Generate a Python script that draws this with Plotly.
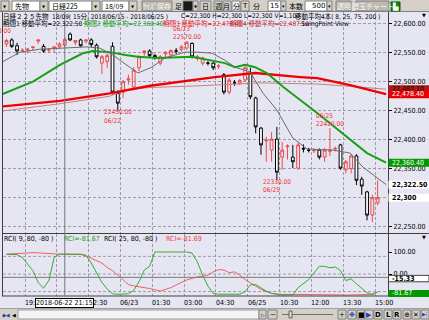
import plotly.graph_objects as go

W, H = 429, 320

# ---------------- data ----------------
tick_labels = ["19:30", "21:00", "22:30", "06/23", "01:30", "03:00",
               "04:30", "06/25", "10:30", "12:00", "13:30", "15:00"]

opens = [22565, 22572, 22562, 22554, 22555, 22559, 22570, 22561, 22555, 22558,
         22560, 22563, 22582, 22568, 22572, 22570, 22572, 22563, 22532, 22535,
         22561, 22480, 22482, 22503, 22491, 22524, 22550, 22553, 22545, 22532,
         22548, 22546, 22553, 22555, 22558, 22566, 22540, 22532, 22532, 22532,
         22527, 22512, 22482, 22498, 22497, 22503, 22515, 22472, 22420, 22398,
         22382, 22401, 22370, 22388, 22370, 22351, 22385, 22382, 22381, 22382,
         22370, 22380, 22384, 22391, 22348, 22350, 22372, 22332, 22310, 22270,
         22291]
highs = [22574, 22575, 22567, 22558, 22558, 22560, 22572, 22565, 22558, 22560,
         22568, 22576, 22585, 22571, 22574, 22572, 22575, 22566, 22546, 22549,
         22568, 22485, 22503, 22512, 22525, 22546, 22554, 22556, 22548, 22546,
         22552, 22555, 22558, 22563, 22570, 22568, 22546, 22543, 22535, 22534,
         22530, 22515, 22506, 22503, 22505, 22527, 22524, 22474, 22422, 22405,
         22413, 22422, 22396, 22392, 22391, 22395, 22392, 22386, 22385, 22385,
         22386, 22420, 22388, 22393, 22365, 22375, 22375, 22336, 22312, 22305,
         22330]
lows = [22560, 22558, 22546, 22550, 22549, 22553, 22565, 22550, 22550, 22551,
        22557, 22558, 22570, 22563, 22560, 22566, 22560, 22540, 22513, 22524,
        22478, 22450, 22472, 22495, 22485, 22518, 22545, 22542, 22538, 22528,
        22540, 22540, 22548, 22552, 22555, 22540, 22536, 22528, 22528, 22520,
        22522, 22478, 22478, 22493, 22494, 22500, 22470, 22411, 22374, 22362,
        22362, 22330, 22348, 22366, 22351, 22348, 22378, 22378, 22377, 22366,
        22362, 22372, 22380, 22348, 22342, 22342, 22322, 22305, 22261, 22258,
        22287]
closes = [22571, 22561, 22553, 22554, 22556, 22560, 22572, 22553, 22555, 22560,
          22565, 22573, 22572, 22571, 22562, 22572, 22564, 22543, 22543, 22545,
          22482, 22463, 22500, 22505, 22520, 22543, 22553, 22545, 22543, 22543,
          22551, 22554, 22553, 22560, 22568, 22543, 22543, 22541, 22532, 22524,
          22527, 22482, 22503, 22498, 22502, 22524, 22474, 22422, 22391, 22399,
          22401, 22344, 22382, 22389, 22362, 22391, 22384, 22382, 22382, 22370,
          22382, 22382, 22385, 22351, 22362, 22372, 22330, 22320, 22270, 22300,
          22300]

# moving averages (candle index, value)
ma8_k = [-1.2, 2.6, 6.3, 11.4, 15.2, 17.6, 20.1, 21.4, 23.3, 24.8, 27.4, 29.9,
         33.7, 36.1, 38.8, 41.2, 43.1, 45.9, 48.4, 51.0, 54.0, 56.7, 61.6, 64.8,
         67.2, 71.6]
ma8_v = [22532, 22551, 22556, 22558, 22560, 22558, 22546, 22537, 22524, 22515,
         22525, 22541, 22551, 22551, 22549, 22537, 22525, 22517, 22480, 22451,
         22403, 22384, 22382, 22377, 22353, 22322.5]
ma25_k = [-1.2, 5.0, 10.1, 14.4, 16.3, 19.5, 22.4, 24.8, 28.6, 35.0, 41.2, 43.1,
          45.0, 46.9, 49.1, 52.2, 58.6, 64.8, 68.0, 71.6]
ma25_v = [22477, 22500, 22529, 22549, 22553, 22551, 22546, 22543, 22541, 22543,
          22532, 22525, 22529, 22525, 22515, 22491, 22446, 22400, 22377, 22360.4]
ma75_k = [-1.2, 10.1, 19.5, 27.1, 39.3, 46.9, 55.4, 58.6, 64.8, 71.6]
ma75_v = [22457, 22467, 22480, 22493, 22508, 22515, 22508, 22506, 22494, 22478.4]
ma200_k = [-1.2, 10.1, 19.5, 22.4, 27.1, 36.5, 47.8, 58.6, 64.8, 71.6]
ma200_v = [22449, 22462, 22475, 22486, 22490, 22493, 22498, 22496, 22492, 22487.1]

rci9 = [90, 90, 88, 75, 45, 15, -40, -64, -30, 75,
        90, 90, 90, 90, 90, 85, 50, 5, -38, -68,
        -90, -92, -92, -90, -75, -35, 18, 35, 100, 100,
        100, 100, 100, 100, 100, 95, 55, -5, -55, -88,
        -92, -92, -92, -92, -92, -80, -50, -48, -62, -78,
        -88, -93, -95, -95, -95, -62, -45, -25, 5, 35,
        35, 28, 32, 15, -30, -22, -45, -65, -85, -95,
        -81.67]
rci25 = [90, 92, 94, 95, 96, 97, 96, 94, 92, 90,
         90, 90, 90, 90, 89, 82, 72, 62, 50, 30,
         15, -5, -28, -48, -54, -57, -60, -66, -72, -77,
         -70, -62, -50, -38, -27, -20, -13, -10, -5, 10,
         20, 18, 6, 10, -5, -25, -42, -55, -70, -80,
         -88, -92, -92, -93, -94, -95, -95, -94, -93, -92,
         -92, -93, -94, -95, -96, -96, -95, -94, -93, -90,
         -81.69]

price_ticks = [22250, 22300, 22350, 22400, 22450, 22500, 22550, 22600]
rci_ticks = [100, 0]
rci_levels = [80, 0, -80]

# swing points: (candle index, kind, date label)
swing_points = [(21, "low", "06/22"), (34, "high", "06/23"),
                (51, "low", "06/25"), (61, "high", "06/25")]

ma_last = {"ma8": 22322.50, "ma25": 22360.40, "ma75": 22478.40, "ma200": 22487.10}
last_price = 22300
cursor_idx = 11
cursor_rci = -15.33

# ---------------- geometry helpers ----------------
def px(x):
    return x / W


def py(y):
    return 1 - y / H


XA, XB = 6.44, 5.303          # candle center = XA + XB * index (pixels)


def kx(x):
    return (x - XA) / XB


def pv(y):
    return 22550 - (y - 52.7) / 0.58


def rv(y):
    return (274 - y) / 0.22


def yp(p):
    return 52.7 + (22550 - p) * 0.58


BG = "#E6E6F2"
TB = "#D4D0C8"
GRID = "#9C9CAC"
FONT = "Liberation Sans Narrow, DejaVu Sans Condensed, DejaVu Sans Mono, Noto Sans CJK JP"
CJK = "Noto Sans CJK JP"
FS = 7
TS = 6.5
RED_TXT = "#F03030"

idx = list(range(len(closes)))
grid_k = [3.5 + 6 * j for j in range(len(tick_labels))]

fig = go.Figure()

# moving averages
fig.add_trace(go.Scatter(x=ma200_k, y=ma200_v, mode="lines",
                         line=dict(color="#C88080", width=1), xaxis="x", yaxis="y"))
fig.add_trace(go.Scatter(x=ma75_k, y=ma75_v, mode="lines",
                         line=dict(color="#F00000", width=2.3), xaxis="x", yaxis="y"))
fig.add_trace(go.Scatter(x=ma25_k, y=ma25_v, mode="lines",
                         line=dict(color="#16A016", width=2), xaxis="x", yaxis="y"))
fig.add_trace(go.Scatter(x=ma8_k, y=ma8_v, mode="lines",
                         line=dict(color="#6A6A6A", width=1), xaxis="x", yaxis="y"))

# candles
fig.add_trace(go.Candlestick(
    x=idx, open=opens, high=highs, low=lows, close=closes,
    increasing=dict(line=dict(color="#F04848", width=1), fillcolor="rgba(0,0,0,0)"),
    decreasing=dict(line=dict(color="#000000", width=1), fillcolor="#FFFFFF"),
    whiskerwidth=0, xaxis="x", yaxis="y", hoverinfo="skip"))

# RCI
fig.add_trace(go.Scatter(x=idx, y=rci25, mode="lines",
                         line=dict(color="#F06060", width=1), xaxis="x", yaxis="y2"))
fig.add_trace(go.Scatter(x=idx, y=rci9, mode="lines",
                         line=dict(color="#38A838", width=1), xaxis="x", yaxis="y2"))

shapes = []
ann = []


def rect(x0, y0, x1, y1, fill, line=None, lw=1):
    shapes.append(dict(type="rect", xref="paper", yref="paper",
                       x0=px(x0), x1=px(x1), y0=py(y1), y1=py(y0),
                       fillcolor=fill, line=dict(color=line or fill, width=lw if line else 0),
                       layer="above"))


def hline(x0, x1, y, color, width=1, dash="solid"):
    shapes.append(dict(type="line", xref="paper", yref="paper", x0=px(x0), x1=px(x1),
                       y0=py(y), y1=py(y), line=dict(color=color, width=width, dash=dash),
                       layer="above"))


def vline(x, y0, y1, color, width=1):
    shapes.append(dict(type="line", xref="paper", yref="paper", x0=px(x), x1=px(x),
                       y0=py(y0), y1=py(y1), line=dict(color=color, width=width), layer="above"))


def txt(x, y, s, color="#000000", size=FS, anchor="left", family=FONT, bold=False, **kw):
    if bold:
        s = "<b>" + s + "</b>"
    ann.append(dict(x=px(x), y=py(y), xref="paper", yref="paper", text=s, showarrow=False,
                    xanchor=anchor, yanchor="middle", borderpad=0,
                    font=dict(family=family, size=size, color=color), **kw))


# ---- pane frame ----
vline(2.5, 12, 296, "#404040")
hline(2, 429, 233.5, "#404040")
hline(2, 429, 296, "#404040")
# cursor crosshair
shapes.append(dict(type="line", xref="x", yref="paper", x0=cursor_idx, x1=cursor_idx,
                   y0=py(296), y1=py(12), line=dict(color="#7A7A7A", width=1), layer="above"))
# RCI level lines
for lv in rci_levels:
    shapes.append(dict(type="line", xref="paper", yref="y2", x0=px(3), x1=px(388), y0=lv, y1=lv,
                       line=dict(color=GRID, width=1, dash="3px,2px"), layer="below"))
shapes.append(dict(type="line", xref="paper", yref="y2", x0=px(3), x1=px(388),
                   y0=cursor_rci, y1=cursor_rci, line=dict(color="#7A7A7A", width=1), layer="above"))

# ---- title rows ----
txt(2, 16.5, "日経２２５先物", family=CJK, size=TS)
txt(51, 16.5, "18/09( 15分; 2018/06/15 - 2018/06/25 )", size=TS)
txt(180, 16.5, "C=22,300 H=22,300 L=22,300 V=1,107", size=TS)
txt(294, 16.5, "移動平均4本( 8, 25, 75, 200 )", size=TS)
txt(2, 23.5, "期間1 移動平均=22,322.50", color="#000000", size=TS)
txt(83, 23.5, "期間2 移動平均=22,360.40", color="#10A010", size=TS)
txt(162, 23.5, "期間3 移動平均=22,478.40", color="#F02020", size=TS)
txt(229, 23.5, "期間4 移動平均=22,487.10", color="#C83030", size=TS)
txt(300, 23.5, "SwingPoint View", size=TS)
ann.append(dict(x=px(13), y=py(31), xref="paper", yref="paper", text="22580.00", showarrow=False,
                xanchor="right", yanchor="middle", font=dict(family=FONT, size=TS, color=RED_TXT)))
txt(424, 15, "▼", size=5, anchor="center", family="DejaVu Sans")
txt(424, 237, "▼", size=5, anchor="center", family="DejaVu Sans")

# swing point labels (two single-line texts each)
for k, kind, date in swing_points:
    v = lows[k] if kind == "low" else highs[k]
    price_s = f"{v:.2f}"
    if kind == "low":
        lines = [(price_s, -1.5), (date, -10)]
    else:
        lines = [(price_s, 4), (date, 12.5)]
    for s, shift in lines:
        ann.append(dict(x=k, y=v, xref="x", yref="y", text=s, showarrow=False,
                        xanchor="left", yanchor="middle", xshift=-15, yshift=shift,
                        borderpad=0, font=dict(family=FONT, size=TS, color=RED_TXT)))

# RCI title
txt(3, 238.5, "RCI( 9, 80, -80 )")
txt(63, 238.5, "RCI=-81.67", color="#20A020")
txt(103, 238.5, "RCI( 25, 80, -80 )")
txt(165, 238.5, "RCI=-81.69", color="#F04040")


# ---- right value boxes ----
def vbox(yc, s, fill, color, bold=False, border=None, hh=4):
    rect(388.5, yc - hh, 429, yc + hh, fill, border)
    txt(391, yc, s, color=color, bold=bold)


vbox(yp(ma_last["ma200"]), "22,487.10", "#B01818", "#200000")
vbox(yp(ma_last["ma75"]), "22,478.40", "#E80000", "#FFFFFF")
vbox(yp(ma_last["ma25"]), "22,360.40", "#009A00", "#FFFFFF")
vbox(yp(ma_last["ma8"]), "22,322.50", "#FFFFFF", "#000000", bold=True)
vbox(yp(last_price), "22,300", "#FFFFFF", "#000000", bold=True)
vbox(274 - 0.22 * cursor_rci + 1.2, "-15.33", "#FFFFFF", "#000000", bold=True,
     border="#404040", hh=3.2)
vbox(274 - 0.22 * rci9[-1] + 1.5, "-81.67", "#009A00", "#FFFFFF", hh=3.5)

# ---- x axis labels ----
for gk, lab in zip(grid_k, tick_labels):
    ann.append(dict(x=gk, y=py(303), xref="x", yref="paper", text=lab, showarrow=False,
                    xanchor="left", yanchor="middle", xshift=-2,
                    font=dict(family=FONT, size=FS, color="#000000")))
ann.append(dict(x=cursor_idx, y=py(303), xref="x", yref="paper", text="2018-06-22 21:15",
                showarrow=False, xanchor="center", yanchor="middle", bgcolor="#FFFFFF",
                bordercolor="#000000", borderwidth=1, borderpad=0,
                font=dict(family=FONT, size=FS, color="#000000")))

# ---- top toolbar ----
rect(0, 0, 429, 12, TB)
hline(0, 429, 11.5, "#808080")


def button(x0, x1, label, fill=TB, color="#000000", size=7, family=CJK):
    rect(x0, 1, x1, 11, fill, "#808080")
    txt((x0 + x1) / 2, 6, label, color=color, size=size, anchor="center", family=family)


def combo(x0, x1, x2, label):
    rect(x0, 1, x1, 11, "#FFFFFF", "#808080")
    txt(x0 + 2, 6, label, size=7, family=CJK)
    button(x1, x2, "▼", size=4, family="DejaVu Sans")


button(1, 9, "▼", size=4, family="DejaVu Sans")
combo(12, 40, 48, "先物")
combo(49, 92, 100, "日経225")
combo(102, 129, 137, "18/09")
button(142, 172, "ｻｲｽﾞ保存", fill="#BEBAB2", color="#F4F4F4")
txt(174, 6, "足", size=7, family=CJK)
rect(183, 1, 193, 11, "#1A1A1A", "#808080")
button(193, 198, "▼", size=4, family="DejaVu Sans")
button(200, 211, "日")
button(214, 222, "週")
button(223, 231, "月")
button(232, 240, "分", fill="#F2F2F2")
button(241, 249, "T", family="DejaVu Sans")
txt(252, 6, "分", size=7, family=CJK)
rect(268, 1, 281, 11, "#FFFFFF", "#808080")
txt(280, 6, "15", anchor="right", family="DejaVu Sans", size=7)
button(281, 286, "▾", size=5, family="DejaVu Sans")
txt(288, 6, "本数", size=7, family=CJK)
rect(305, 1, 327, 11, "#FFFFFF", "#808080")
txt(326, 6, "500", anchor="right", family="DejaVu Sans", size=7)
button(327, 332, "▾", size=5, family="DejaVu Sans")
button(336, 351, "透明", fill="#BEBAB2", color="#F4F4F4")
button(356, 389, "建玉チャート", fill="#BEBAB2", color="#F4F4F4")
rect(391, 2, 400, 11, "#0A8A0A", "#006000")
txt(395.5, 6.5, "▙", size=7, anchor="center", family="DejaVu Sans", color="#FFFFFF")

# ---- bottom toolbar ----
rect(0, 308, 429, 320, TB)
hline(0, 429, 308.5, "#A0A0A0")
txt(6, 314.5, "◆◀", size=5, anchor="center", family="DejaVu Sans", color="#1A3AC0")
txt(14, 314.5, "◀", size=5, anchor="center", family="DejaVu Sans")
rect(18, 310, 259, 319, "#F4F4F4", "#A0A0A0")
rect(259, 310, 266, 319, TB, "#808080")
txt(262.5, 314.5, "▷", size=5, anchor="center", family="DejaVu Sans")
rect(268, 310, 277, 319, TB, "#808080")
txt(272.5, 314.5, "−", size=7, anchor="center", family="DejaVu Sans")
hline(282, 333, 314.5, "#707070")
rect(289, 311, 292, 318, "#E0E0E0", "#606060")
bottom_btns = [("+", "#000000"), ("✥", "#1A3AC0"), ("■", "#000000"), ("▶", "#1A3AC0"),
               ("D", "#000000"), ("L", "#000000"), ("R", "#000000"), ("⊕", "#000000"),
               ("✕", "#000000"), ("▶|", "#1A3AC0")]
bx = [342, 352, 361, 369, 378, 388, 397, 407, 416, 425]
for (lab, col), xc in zip(bottom_btns, bx):
    rect(xc - 4, 310, xc + 4, 319, TB, "#808080")
    txt(xc, 314.5, lab, size=7 if len(lab) == 1 else 5, anchor="center",
        family="DejaVu Sans", color=col, bold=lab in "DLR")

# price tick labels: the one hidden by the current-price box is left blank
price_text = ["" if t == last_price else f"{t:,.2f}" for t in price_ticks]

fig.update_layout(
    width=W, height=H, margin=dict(l=0, r=0, t=0, b=0),
    paper_bgcolor=BG, plot_bgcolor="rgba(0,0,0,0)", showlegend=False,
    boxgap=0.25,
    xaxis=dict(domain=[px(3), px(388)], range=[kx(3), kx(388)], anchor="y2",
               tickvals=grid_k, showticklabels=False, ticks="",
               showgrid=True, gridcolor=GRID, gridwidth=1, griddash="3px,2px",
               zeroline=False, showline=False, rangeslider=dict(visible=False),
               fixedrange=True),
    yaxis=dict(domain=[py(233), py(12)], range=[pv(233), pv(12)], side="right", anchor="x",
               tickvals=price_ticks, ticktext=price_text, ticks="outside", ticklen=3,
               tickcolor="#000000", showgrid=True, gridcolor=GRID, griddash="3px,2px",
               zeroline=False, showline=True, linecolor="#404040", automargin=False,
               tickfont=dict(family=FONT, size=FS, color="#000000"), fixedrange=True),
    yaxis2=dict(domain=[py(296), py(234)], range=[rv(296), rv(234)], side="right", anchor="x",
                tickvals=rci_ticks, tickformat=".2f", ticks="outside", ticklen=3,
                tickcolor="#000000", showgrid=False, zeroline=False, showline=True,
                linecolor="#404040", automargin=False,
                tickfont=dict(family=FONT, size=FS, color="#000000"), fixedrange=True),
    shapes=shapes, annotations=ann,
)

fig.write_html("out.html", config={"displayModeBar": False, "staticPlot": True})
